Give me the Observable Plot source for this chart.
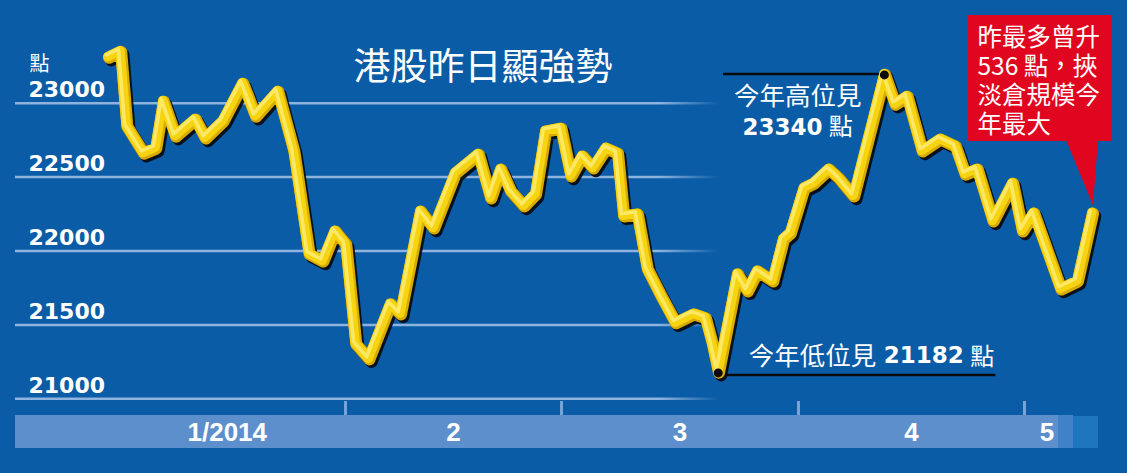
<!DOCTYPE html>
<html>
<head>
<meta charset="utf-8">
<script src="https://cdn.jsdelivr.net/npm/d3@7"></script>
<script src="https://cdn.jsdelivr.net/npm/@observablehq/plot@0.6"></script>
<style>
  html, body { margin: 0; padding: 0; background: #0a5ca6; }
  #chart svg { display: block; }
</style>
</head>
<body>
<div id="chart"></div>
<script>
// ---- data ----
// x: days since 1 Jan 2014, y: Hang Seng Index points
const days = [-0.1,1.5,2.3,4.5,6.1,7.1,8.7,11.3,12.6,14.9,17.5,19.2,22.1,24.2,26.2,28.0,29.6,31.0,32.3,34.0,36.8,38.1,40.7,42.4,45.2,48.2,49.8,51.1,52.4,54.1,55.6,56.9,58.9,60.2,61.7,63.1,64.8,66.3,67.1,68.9,70.2,72.2,73.9,76.3,77.8,78.7,79.5,82.0,83.3,84.6,86.6,88.0,88.9,90.7,92.0,94.0,95.3,97.3,101.4,102.8,104.4,106.4,108.8,110.8,112.1,113.7,115.8,118.4,119.7,121.2,124.8,127.0,129.0];
const values = [23313,23353,22847,22664,22698,23016,22779,22894,22766,22880,23137,22914,23083,22678,21982,21934,22137,22049,21374,21272,21644,21576,22272,22157,22529,22657,22360,22556,22407,22306,22387,22813,22833,22509,22644,22563,22698,22664,22239,22252,21880,21678,21516,21576,21549,21374,21182,21847,21732,21867,21799,22083,22124,22428,22461,22556,22495,22374,23198,22995,23049,22678,22759,22711,22522,22556,22205,22461,22137,22259,21745,21799,22259];

const yTicks = [21000, 21500, 22000, 22500, 23000];
const monthLabels = ["1/2014", "2", "3", "4", "5"];
const monthMid = [15.5, 45, 74.5, 105, 123];
const monthStarts = [31, 59, 90, 120];

const title = "港股昨日顯強勢";
const unitLabel = "點";

// annotations
const highPoint = {day: 101.4, value: 23198, ruleFrom: 80.2};
const lowPoint = {day: 79.5, value: 21182, ruleTo: 116.2};
const highText = [{day: 89.9, value: 23045, text: "今年高位見"}];
const highNum = [{day: 93.2, value: 22836, text: "23340"}];
const highUnit = [{day: 94.0, value: 22836, text: "點"}];
const lowText = [{day: 83.5, value: 21283, text: "今年低位見"}];
const lowNum = [{day: 101.3, value: 21293, text: "21182"}];
const lowUnit = [{day: 112.8, value: 21283, text: "點"}];
const calloutLines = ["昨最多曾升", "536 點，挾", "淡倉規模今", "年最大"];

const series = days.map((d, i) => ({day: d, value: values[i]}));

// decorative layer: gradient defs + bottom band
function decor() {
  const g = d3.create("svg:g");
  const defs = g.append("defs");
  const grad = defs.append("linearGradient")
    .attr("id", "gridfade").attr("gradientUnits", "userSpaceOnUse")
    .attr("x1", 0).attr("x2", 1127).attr("y1", 0).attr("y2", 0);
  [[0, 0], [0.0133, 0], [0.0134, 1], [0.585, 1], [0.638, 0], [1, 0]].forEach(([o, a]) =>
    grad.append("stop").attr("offset", o).attr("stop-color", "#8db3de").attr("stop-opacity", a));
  g.append("rect").attr("x", 15).attr("y", 415).attr("width", 1043).attr("height", 33).attr("fill", "#5d8fcd");
  g.append("rect").attr("x", 1058).attr("y", 415).attr("width", 15).attr("height", 33).attr("fill", "#3f82c8");
  g.append("rect").attr("x", 1073).attr("y", 416).attr("width", 25).attr("height", 32).attr("fill", "#1e76bf");
  return g.node();
}

function callout() {
  const g = d3.create("svg:g");
  g.append("rect").attr("x", 968).attr("y", 15).attr("width", 144).attr("height", 126).attr("fill", "#e1061f");
  g.append("path").attr("d", "M1066,140 L1098,140 L1093,205 Z").attr("fill", "#e1061f");
  return g.node();
}

const lineOpts = {x: "day", y: "value", curve: "linear", strokeLinejoin: "round", strokeLinecap: "round"};

const chart = Plot.plot({
  width: 1127,
  height: 473,
  margin: 0,
  x: {type: "linear", domain: [0, 31, 59, 90, 120], range: [108.5, 345, 561, 798, 1024], axis: null},
  y: {domain: [21000, 23000], range: [398.3, 102.7], axis: null},
  style: {background: "#0a5ca6", color: "white", fontFamily: "'Noto Sans CJK TC', 'Noto Sans', sans-serif", overflow: "visible"},
  marks: [
    decor,
    Plot.ruleY(yTicks, {stroke: "url(#gridfade)", strokeWidth: 2.5}),
    Plot.ruleX(monthStarts, {stroke: "#7aa3d8", strokeWidth: 3, insetTop: 401, insetBottom: 58}),
    Plot.text(monthLabels, {x: (d, i) => monthMid[i], text: d => d, frameAnchor: "bottom", dy: -41, lineAnchor: "middle",
      fontFamily: "'Liberation Sans', Arial, sans-serif", fontWeight: "bold", fontSize: 26, fill: "white"}),
    Plot.text(yTicks, {y: d => d, text: d => String(d), frameAnchor: "left", dx: 28, dy: -13, textAnchor: "start", lineAnchor: "middle",
      fontFamily: "'DejaVu Sans', sans-serif", fontWeight: "bold", fontSize: 22, fill: "white"}),
    Plot.text([unitLabel], {frameAnchor: "top-left", dx: 29, dy: 64, textAnchor: "start", lineAnchor: "middle", fontSize: 20, fill: "white"}),
    Plot.text([title], {frameAnchor: "top", dx: -81, dy: 68, lineAnchor: "middle", fontSize: 37, fill: "white"}),
    // annotation rules
    Plot.ruleY([highPoint], {x1: "ruleFrom", x2: "day", y: "value", stroke: "#0a0a0a", strokeWidth: 2.5}),
    Plot.ruleY([lowPoint], {x1: "day", x2: "ruleTo", y: "value", stroke: "#0a0a0a", strokeWidth: 2.5, dy: 3}),
    Plot.text(highText, {x: "day", y: "value", text: "text", lineAnchor: "middle", fontSize: 25.5, fill: "white"}),
    Plot.text(highNum, {x: "day", y: "value", text: "text", textAnchor: "end", lineAnchor: "middle",
      fontFamily: "'DejaVu Sans', sans-serif", fontWeight: "bold", fontSize: 23, fill: "white"}),
    Plot.text(highUnit, {x: "day", y: "value", text: "text", textAnchor: "start", lineAnchor: "middle", fontSize: 24, fill: "white"}),
    Plot.text(lowText, {x: "day", y: "value", text: "text", textAnchor: "start", lineAnchor: "middle", fontSize: 25.5, fill: "white"}),
    Plot.text(lowNum, {x: "day", y: "value", text: "text", textAnchor: "start", lineAnchor: "middle",
      fontFamily: "'DejaVu Sans', sans-serif", fontWeight: "bold", fontSize: 23, fill: "white"}),
    Plot.text(lowUnit, {x: "day", y: "value", text: "text", textAnchor: "start", lineAnchor: "middle", fontSize: 24, fill: "white"}),
    // the index line: shadow, gold rim, body, highlight
    Plot.line(series, {...lineOpts, stroke: "#05080f", strokeOpacity: 0.9, strokeWidth: 12, dx: 3, dy: 3.5}),
    Plot.line(series, {...lineOpts, stroke: "#d9ab00", strokeWidth: 12, dx: 0.8, dy: 0.8}),
    Plot.line(series, {...lineOpts, stroke: "#f7d412", strokeWidth: 9.5, dx: -0.4, dy: -0.4}),
    Plot.line(series, {...lineOpts, stroke: "#fff18a", strokeWidth: 3.5, strokeOpacity: 0.7, dx: -2, dy: -2}),
    Plot.dot([highPoint, {day: lowPoint.day, value: lowPoint.value}], {x: "day", y: "value", r: 4.5, fill: "#0a0a0a", dy: 1}),
    callout,
    ...calloutLines.map((line, i) => Plot.text([line], {frameAnchor: "top-left", dx: 977, dy: 38 + i * 28.8,
      textAnchor: "start", lineAnchor: "middle", fontSize: 24.5, fill: "white"}))
  ]
});
document.getElementById("chart").appendChild(chart);
</script>
</body>
</html>
